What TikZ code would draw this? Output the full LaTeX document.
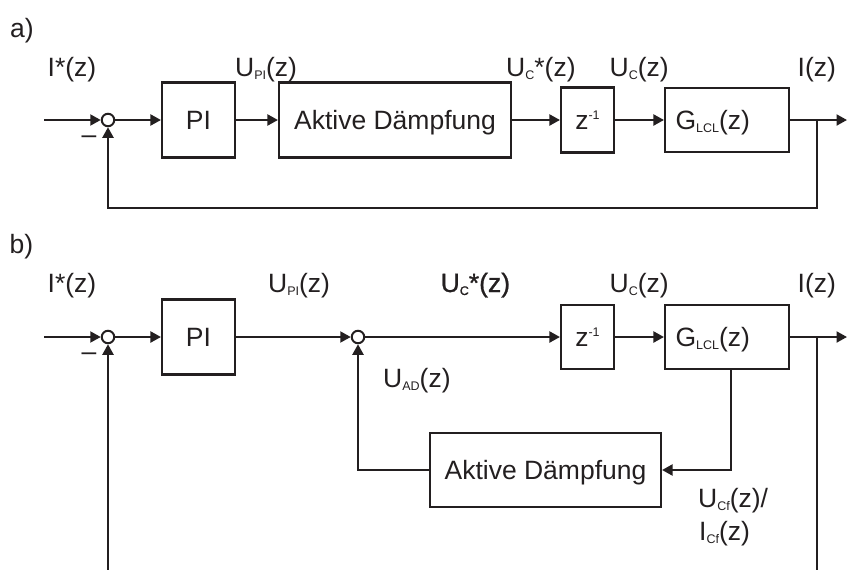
\documentclass[tikz,border=0pt]{standalone}
\usepackage{fontspec}
\setmainfont{Liberation Sans}
\newfontfamily\semibold[FakeBold=1.0]{Liberation Sans}
\usetikzlibrary{arrows.meta}
\definecolor{ink}{RGB}{35,31,32}
\newcommand{\lsub}[1]{\raisebox{-3pt}{\fontsize{12.5}{12.5}\selectfont #1}}
\newcommand{\lsup}[1]{\raisebox{10pt}{\fontsize{12.5}{12.5}\selectfont #1}}
\begin{document}
\begin{tikzpicture}[x=1pt,y=-1pt,
  every node/.style={text=ink, font=\fontsize{26.5}{30}\selectfont},
  blk/.style={draw=ink, line width=2.1pt, inner sep=0pt, align=center, text height=19pt, text depth=0pt},
  sumpt/.style={draw=ink, line width=2pt, circle, minimum size=12.5pt, inner sep=0pt},
  lbl/.style={anchor=base west, inner sep=0pt},
  wire/.style={draw=ink, line width=2.1pt},
  arr/.style={wire, -{Triangle[length=10.5pt,width=11pt]}}]
\useasboundingbox (0,0) rectangle (847,570);

% ---------------- panel a ----------------
\node[lbl] (tA) at (10,37) {a)};
\node[sumpt] (ca) at (108,120) {};
\node[blk, minimum width=73pt, minimum height=75pt] (pia) at (198.5,120) {PI};
\node[blk, minimum width=232pt, minimum height=75pt] (ada) at (395,120) {Aktive Dämpfung};
\node[blk, minimum width=53pt, minimum height=65pt] (za) at (587.5,120) {z\lsup{-1}};
\node[blk, minimum width=124pt, minimum height=64pt, text width=103pt, inner xsep=10.5pt, align=left] (ga) at (727,120) {G\lsub{LCL}(z)};

\node[lbl] (la1) at (47.5,76) {I*(z)};
\node[lbl] (la2) at (235,76) {U\lsub{PI}(z)};
\node[lbl] (la3) at (506,76) {U\lsub{C}*(z)};
\node[lbl] (la4) at (609.5,76) {U\lsub{C}(z)};
\node[lbl] (la5) at (797.5,76) {I(z)};
\node[anchor=base, inner sep=0pt] (ma) at (89,143.5) {–};

\coordinate (ina) at (44,120);
\coordinate (outa) at (847,120);
\coordinate (bra) at (817,120);
\coordinate (fba) at (817,208);
\draw[arr] (ina) -- (ca.west);
\draw[arr] (ca.east) -- (pia.west);
\draw[arr] (pia.east) -- (ada.west);
\draw[arr] (ada.east) -- (za.west);
\draw[arr] (za.east) -- (ga.west);
\draw[arr] (ga.east) -- (outa);
\draw[arr] (bra) -- (fba) -| (ca.south);

% ---------------- panel b ----------------
\node[lbl] (tB) at (9.5,253) {b)};
\node[sumpt] (c1b) at (108,337) {};
\node[blk, minimum width=73pt, minimum height=75pt] (pib) at (198.5,337) {PI};
\node[sumpt] (c2b) at (358,337) {};
\node[blk, minimum width=53pt, minimum height=64pt] (zb) at (587.5,337) {z\lsup{-1}};
\node[blk, minimum width=124pt, minimum height=64pt, text width=103pt, inner xsep=10.5pt, align=left] (gb) at (727,337) {G\lsub{LCL}(z)};
\node[blk, minimum width=231pt, minimum height=74pt] (adb) at (545.5,470) {Aktive Dämpfung};

\node[lbl] (lb1) at (47.5,292) {I*(z)};
\node[lbl] (lb2) at (268,292) {U\lsub{PI}(z)};
\node[lbl] (lb3) at (440.5,292) {{\semibold U\lsub{C}*(z)}};
\node[lbl] (lb4) at (609.5,292) {U\lsub{C}(z)};
\node[lbl] (lb5) at (797.5,292) {I(z)};
\node[lbl] (lb6) at (383,387) {U\lsub{AD}(z)};
\node[lbl] (lb7) at (698,507) {U\lsub{Cf}(z)/};
\node[lbl] (lb8) at (699,540) {I\lsub{Cf}(z)};
\node[anchor=base, inner sep=0pt] (mb) at (89,360.5) {–};

\coordinate (inb) at (44,337);
\coordinate (outb) at (847,337);
\coordinate (brb) at (817,337);
\coordinate (botb) at (817,571);
\coordinate (fbb) at (108,571);
\coordinate (tapb) at (731,369);
\draw[arr] (inb) -- (c1b.west);
\draw[arr] (c1b.east) -- (pib.west);
\draw[arr] (pib.east) -- (c2b.west);
\draw[arr] (c2b.east) -- (zb.west);
\draw[arr] (zb.east) -- (gb.west);
\draw[arr] (gb.east) -- (outb);
\draw[wire] (brb) -- (botb);
\draw[arr] (fbb) -- (c1b.south);
\draw[arr] (tapb) |- (adb.east);
\draw[arr] (adb.west) -| (c2b.south);
\end{tikzpicture}
\end{document}
